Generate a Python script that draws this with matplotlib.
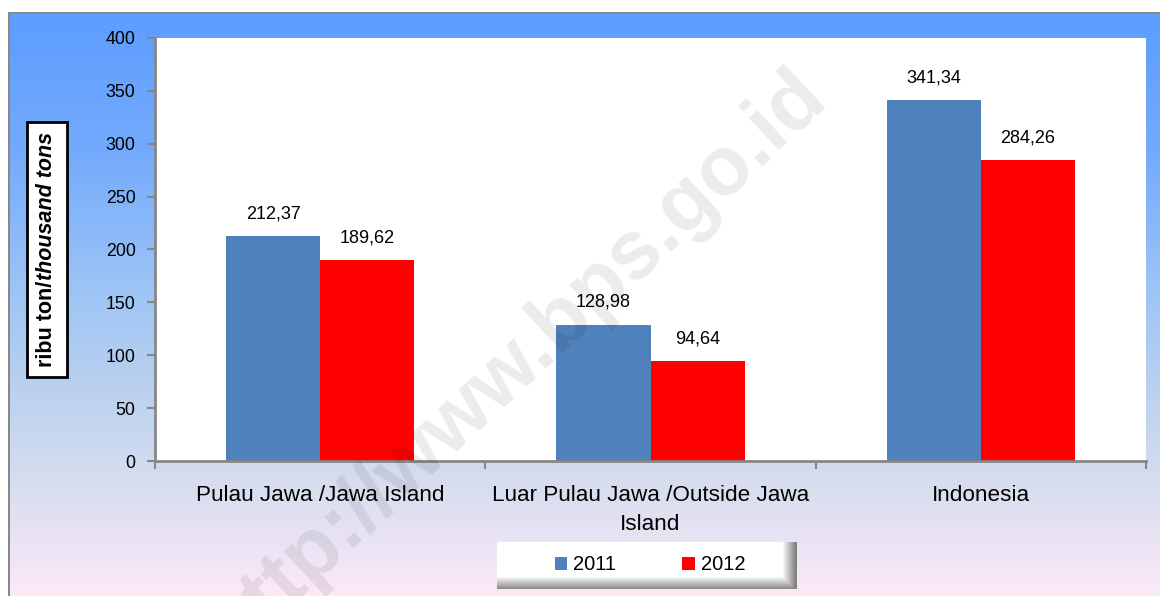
import numpy as np
import matplotlib
matplotlib.use("Agg")
import matplotlib.pyplot as plt
from matplotlib.patches import Rectangle

plt.rcParams['font.family'] = ['Liberation Sans', 'DejaVu Sans']

# -----------------------------
# data
# -----------------------------
categories = ['Pulau Jawa /Jawa Island', 'Luar Pulau Jawa /Outside Jawa\nIsland', 'Indonesia']
series_names = ['2011', '2012']
values_2011 = [212.37, 128.98, 341.34]
values_2012 = [189.62, 94.64, 284.26]
y_ticks = [0, 50, 100, 150, 200, 250, 300, 350, 400]

W, H = 1160, 596
fig = plt.figure(figsize=(W / 100, H / 100), dpi=100)

# -----------------------------
# background gradient + frame
# -----------------------------
stops_y = [12, 150, 300, 400, 470, 596]
stops_c = np.array([[93, 157, 255], [115, 170, 252], [160, 198, 245],
                    [190, 210, 238], [210, 220, 238], [252, 233, 248]], float)
rows = np.arange(H)
grad = np.stack([np.interp(rows, stops_y, stops_c[:, i]) for i in range(3)], axis=1)
bg = np.repeat(grad[:, None, :], W, axis=1)
bg[:12, :, :] = 255
bg[:, :8, :] = 255
bg[12:14, 8:, :] = 136
bg[12:, 8:10, :] = 136
bg_ax = fig.add_axes([0, 0, 1, 1], zorder=-5)
bg_ax.imshow(bg.astype(np.uint8), aspect='auto', interpolation='nearest')
bg_ax.axis('off')

# -----------------------------
# main bar chart
# -----------------------------
ax = fig.add_axes([155 / W, 1 - 461 / H, (1146 - 155) / W, (461 - 38) / H])
ax.set_facecolor('white')
x = np.arange(len(categories))
bw = 0.285
b1 = ax.bar(x - bw / 2, values_2011, bw, color='#4F81BD', label=series_names[0])
b2 = ax.bar(x + bw / 2, values_2012, bw, color='#FF0000', label=series_names[1])

for bars, vals in [(b1, values_2011), (b2, values_2012)]:
    for rect, v in zip(bars, vals):
        ax.annotate(f'{v:.2f}'.replace('.', ','),
                    (rect.get_x() + rect.get_width() / 2, rect.get_height()),
                    xytext=(0, 10), textcoords='offset points',
                    ha='center', va='bottom', fontsize=13)

ax.set_xlim(-0.5, 2.5)
ax.set_ylim(0, 400)
ax.set_yticks(y_ticks)
ax.set_yticklabels([str(t) for t in y_ticks], fontsize=12.8)
ax.set_xticks(x)
ax.set_xticklabels(categories, fontsize=16.2, linespacing=1.5)
ax.set_xticks([-0.5, 0.5, 1.5, 2.5], minor=True)
ax.tick_params(axis='x', which='major', length=0, pad=17)
ax.tick_params(axis='x', which='minor', length=6, color='#868686', width=1.5)
ax.tick_params(axis='y', length=6, color='#868686', width=1.5, pad=8)
for s in ['top', 'right']:
    ax.spines[s].set_visible(False)
for s in ['left', 'bottom']:
    ax.spines[s].set_color('#868686')
    ax.spines[s].set_linewidth(2)

# -----------------------------
# y label in a box (mixed bold / bold italic)
# -----------------------------
fig.patches.append(Rectangle((27 / W, 1 - 377 / H), 40 / W, 255 / H,
                             transform=fig.transFigure, facecolor='white',
                             edgecolor='black', lw=2, zorder=2))
renderer = fig.canvas.get_renderer()
t1 = fig.text(0, 0, 'ribu ton/', rotation=90, fontsize=15.5, weight='bold',
              ha='center', va='bottom', zorder=3)
t2 = fig.text(0, 0, 'thousand tons', rotation=90, fontsize=15.5, weight='bold',
              style='italic', ha='center', va='bottom', zorder=3)
h1 = t1.get_window_extent(renderer).height
h2 = t2.get_window_extent(renderer).height
yc = H - 249.5
y0 = yc - (h1 + h2) / 2
t1.set_position((47 / W, y0 / H))
t2.set_position((47 / W, (y0 + h1) / H))

# -----------------------------
# legend box with soft shadow
# -----------------------------
lw_, lh_ = 300, 47
xx = np.arange(lw_)[None, :]
yy = np.arange(lh_)[:, None]
shade = np.maximum(np.clip((xx - 285) / 13, 0, 1), np.clip((yy - 34) / 13, 0, 1))
lg = 255 - shade * (255 - 130)
lg_img = np.stack([lg, lg, lg], axis=2).astype(np.uint8)
lg_ax = fig.add_axes([497 / W, 1 - 589 / H, lw_ / W, lh_ / H], zorder=4)
lg_ax.imshow(lg_img, aspect='auto', interpolation='bilinear')
lg_ax.axis('off')
leg = fig.legend(handles=[b1, b2], labels=series_names, loc='center',
                 bbox_to_anchor=(650 / W, 1 - 565 / H), ncol=2, frameon=False,
                 fontsize=14.5, handlelength=0.6, handleheight=0.6,
                 handletextpad=0.3, columnspacing=3.3)
leg.set_zorder(5)

# -----------------------------
# watermark
# -----------------------------
fig.text(515 / W, 1 - 362 / H, 'http://www.bps.go.id', rotation=43,
         rotation_mode='anchor', ha='center', va='center', fontsize=60,
         weight='bold', color='black', alpha=0.08, zorder=10)

fig.savefig('out.png', dpi=100)
